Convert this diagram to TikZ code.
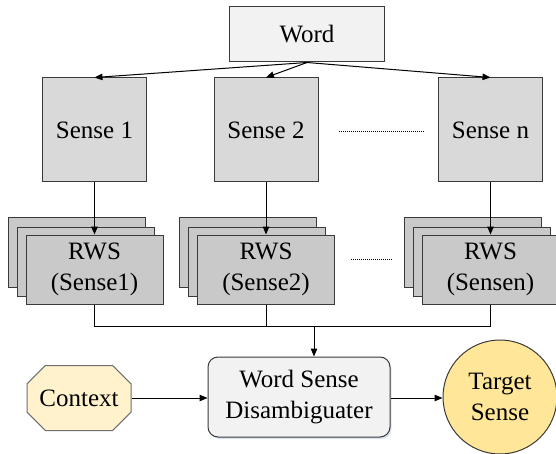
\documentclass[tikz,border=0pt]{standalone}
\usepackage{fontspec}
\setmainfont{LiberationSerif}[Extension=.ttf, UprightFont=*-Regular, BoldFont=*-Bold]
\usetikzlibrary{arrows.meta,shapes.misc,shadows}

\definecolor{boxline}{HTML}{3A3A3A}
\definecolor{wordfill}{HTML}{F2F2F2}
\definecolor{sensefill}{HTML}{D9D9D9}
\definecolor{rwsfill}{HTML}{C9C9C9}
\definecolor{ctxfill}{HTML}{FFF2CC}
\definecolor{ctxline}{HTML}{6E6E6E}
\definecolor{tgtfill}{HTML}{FFE699}
\definecolor{shade}{HTML}{C2D2E6}

\tikzset{
  lbl/.style={font=\rmfamily\fontsize{25}{31}\selectfont, text=black, align=center, inner sep=0pt},
  wordbox/.style={lbl, draw=boxline, line width=1pt, fill=wordfill,
    minimum width=155pt, minimum height=55pt},
  sensebox/.style={lbl, draw=boxline, line width=1pt, fill=sensefill,
    minimum width=104pt, minimum height=104pt},
  rwsbox/.style={lbl, draw=boxline, line width=1pt, fill=rwsfill,
    minimum width=137pt, minimum height=69pt},
  wsdbox/.style={lbl, draw=boxline, line width=1pt, fill=wordfill, rounded corners=10pt,
    minimum width=182pt, minimum height=80pt,
    general shadow={fill=shade, draw=none, shadow xshift=1.5pt, shadow yshift=-2pt, opacity=0.6}},
  ctxbox/.style={lbl, chamfered rectangle, chamfered rectangle xsep=10pt,
    chamfered rectangle ysep=10pt, draw=ctxline, line width=1pt, fill=ctxfill,
    minimum width=104pt, minimum height=65pt},
  tgtcircle/.style={lbl, circle, draw=boxline, line width=1pt, fill=tgtfill,
    minimum size=114pt},
  link/.style={draw=black, line width=1pt},
  arr/.style={link, -{Triangle[length=8pt,width=6.5pt]}},
  gap/.style={draw=black, line width=1pt, dash pattern=on 1pt off 1pt}
}

\begin{document}
\begin{tikzpicture}[x=1pt, y=-1pt]
  \useasboundingbox (0,0) rectangle (556,454);
  \clip (0,0) rectangle (556,454);

  % word and its senses
  \node[wordbox] (word) at (307,34.5) {Word};
  \node[sensebox] (s1) at (94.5,130) {Sense 1};
  \node[sensebox] (s2) at (266,130) {Sense 2};
  \node[sensebox] (sn) at (490.5,130) {Sense n};
  \coordinate (d1a) at (339,132);
  \coordinate (d1b) at (425,132);
  \draw[gap] (d1a) -- (d1b);

  \draw[arr] (word.south) -- (s1.north);
  \draw[arr] (word.south) -- (s2.north);
  \draw[arr] (word.south) -- (sn.north);

  % stacked related-word sets, back to front
  \foreach \n/\cx/\t in {1/94.5/Sense1, 2/266/Sense2, n/490.5/Sensen}{
    \node[rwsbox] (rws\n c) at (\cx-18,252.5) {};
    \node[rwsbox] (rws\n b) at (\cx-9,261.5) {};
    \node[rwsbox] (rws\n a) at (\cx,269.5) {RWS\\(\t)};
  }
  \coordinate (d2a) at (351,259);
  \coordinate (d2b) at (393,259);
  \draw[gap] (d2a) -- (d2b);

  \draw[arr] (s1.south) -- (rws1a.north);
  \draw[arr] (s2.south) -- (rws2a.north);
  \draw[arr] (sn.south) -- (rwsna.north);

  % disambiguation stage
  \node[wsdbox] (wsd) at (299,397) {Word Sense\\Disambiguater};
  \node[ctxbox] (ctx) at (79,398) {Context};
  \node[tgtcircle] (tgt) at (500,397) {Target\\Sense};

  \coordinate (bus) at (314,326);
  \draw[link] (rws1a.south) |- (bus);
  \draw[link] (rws2a.south) |- (bus);
  \draw[link] (rwsna.south) |- (bus);
  \draw[arr] (bus) -- (bus |- wsd.north);

  \draw[arr] (ctx.east) -- (ctx.east -| wsd.west);
  \draw[arr] (ctx.east -| wsd.east) -- (ctx.east -| tgt.west);
\end{tikzpicture}
\end{document}
